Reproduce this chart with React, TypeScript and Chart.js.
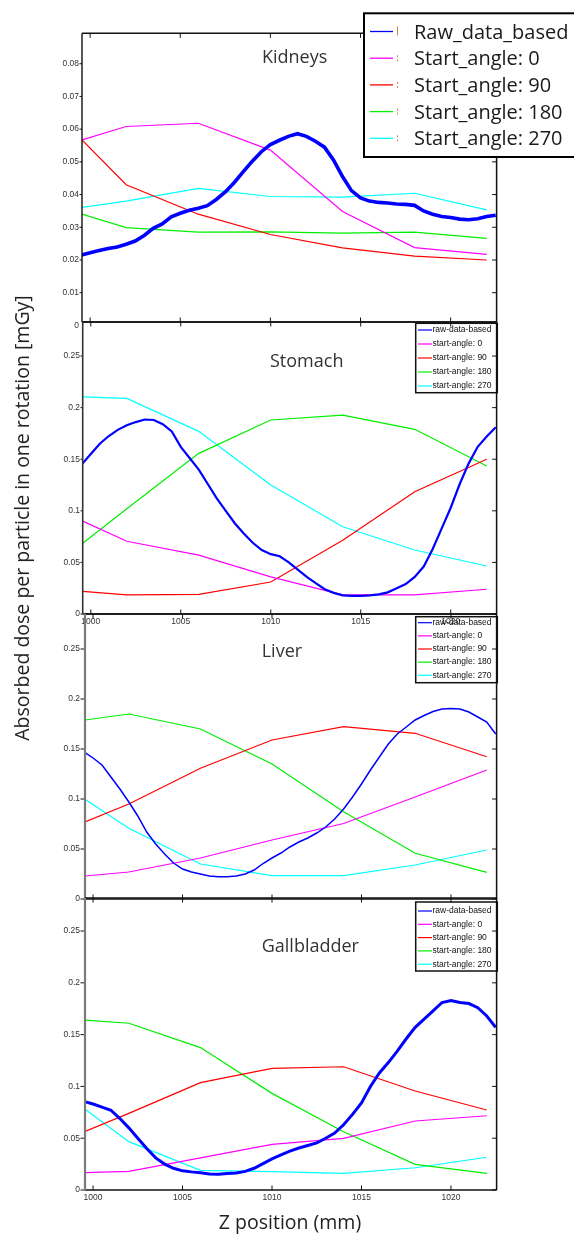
import React, { useEffect, useRef } from "react";
import { Chart, registerables } from "chart.js";

Chart.register(...registerables);

// ---------- data ----------
const seriesNames = ["raw-data-based", "start-angle: 0", "start-angle: 90", "start-angle: 180", "start-angle: 270"];
const bigLegendNames = ["Raw_data_based", "Start_angle: 0", "Start_angle: 90", "Start_angle: 180", "Start_angle: 270"];
const seriesColors = ["#0000ff", "#ff00ff", "#ff0000", "#00ee00", "#00ffff"];

const xTicks = [1000, 1005, 1010, 1015, 1020];
const kidneysYTicks = [0, 0.01, 0.02, 0.03, 0.04, 0.05, 0.06, 0.07, 0.08];
const kidneysYLabels = ["0", "0.01", "0.02", "0.03", "0.04", "0.05", "0.06", "0.07", "0.08"];
const organYTicks = [0, 0.05, 0.1, 0.15, 0.2, 0.25];
const organYLabels = ["0", "0.05", "0.1", "0.15", "0.2", "0.25"];

// z positions (mm)
const angleZ = [999.55, 1002, 1006, 1010, 1014, 1018, 1022];
const rawZ = [
  999.5, 1000, 1000.5, 1001, 1001.5, 1002, 1002.5, 1003, 1003.5, 1004, 1004.5, 1005, 1005.5, 1006, 1006.5, 1007,
  1007.5, 1008, 1008.5, 1009, 1009.5, 1010, 1010.5, 1011, 1011.5, 1012, 1012.5, 1013, 1013.5, 1014, 1014.5, 1015,
  1015.5, 1016, 1016.5, 1017, 1017.5, 1018, 1018.5, 1019, 1019.5, 1020, 1020.5, 1021, 1021.5, 1022, 1022.5,
];

// Kidneys
const kidneysRaw = [
  0.0215, 0.0222, 0.0229, 0.0235, 0.024, 0.0248, 0.0258, 0.0275, 0.0297, 0.031, 0.0332, 0.0343, 0.0352, 0.0358, 0.0366, 0.0385,
  0.0408, 0.0437, 0.047, 0.0502, 0.0531, 0.0553, 0.0566, 0.0578, 0.0586, 0.0578, 0.0563, 0.0545, 0.0506, 0.0455, 0.0412, 0.039,
  0.038, 0.0376, 0.0374, 0.0371, 0.037, 0.0367, 0.035, 0.034, 0.0333, 0.033, 0.0325, 0.0323, 0.0326, 0.0333, 0.0337,
];
const kidneysA0 = [0.0567, 0.0608, 0.0618, 0.0536, 0.0348, 0.0238, 0.0217];
const kidneysA90 = [0.0567, 0.043, 0.034, 0.0278, 0.0237, 0.0212, 0.02];
const kidneysA180 = [0.034, 0.0299, 0.0285, 0.0286, 0.0282, 0.0285, 0.0266];
const kidneysA270 = [0.0361, 0.038, 0.0419, 0.0394, 0.0392, 0.0404, 0.0353];

// Stomach
const stomachRaw = [
  0.145, 0.155, 0.165, 0.1725, 0.1785, 0.183, 0.186, 0.1885, 0.188, 0.184, 0.177, 0.162, 0.151, 0.14, 0.126, 0.112,
  0.1, 0.088, 0.078, 0.069, 0.062, 0.058, 0.056, 0.05, 0.043, 0.036, 0.03, 0.024, 0.0205, 0.018, 0.0175, 0.0175,
  0.018, 0.019, 0.021, 0.025, 0.029, 0.036, 0.046, 0.063, 0.083, 0.103, 0.126, 0.146, 0.162, 0.172, 0.181,
];
const stomachA0 = [0.09, 0.0705, 0.057, 0.036, 0.0185, 0.0185, 0.024];
const stomachA90 = [0.022, 0.0185, 0.019, 0.031, 0.0715, 0.1185, 0.15];
const stomachA180 = [0.0685, 0.102, 0.1557, 0.188, 0.1928, 0.179, 0.1434];
const stomachA270 = [0.2105, 0.209, 0.177, 0.125, 0.0846, 0.062, 0.0465];

// Liver
const liverRaw = [
  0.147, 0.141, 0.134, 0.122, 0.11, 0.097, 0.083, 0.067, 0.055, 0.045, 0.036, 0.03, 0.027, 0.025, 0.023, 0.0222,
  0.0222, 0.023, 0.025, 0.029, 0.0355, 0.041, 0.046, 0.052, 0.057, 0.061, 0.066, 0.072, 0.08, 0.09, 0.102, 0.115,
  0.129, 0.142, 0.155, 0.165, 0.172, 0.179, 0.1835, 0.1875, 0.19, 0.1905, 0.19, 0.187, 0.182, 0.177, 0.165,
];
const liverA0 = [0.023, 0.027, 0.041, 0.059, 0.0755, 0.102, 0.129];
const liverA90 = [0.077, 0.095, 0.1307, 0.159, 0.1723, 0.1657, 0.1423];
const liverA180 = [0.179, 0.185, 0.17, 0.135, 0.0873, 0.0457, 0.0267];
const liverA270 = [0.0997, 0.0707, 0.035, 0.0233, 0.0233, 0.034, 0.049];

// Gallbladder
const gallRaw = [
  0.0855, 0.083, 0.08, 0.077, 0.069, 0.06, 0.05, 0.04, 0.031, 0.025, 0.021, 0.0185, 0.0175, 0.0167, 0.0155, 0.0152,
  0.016, 0.0165, 0.018, 0.021, 0.0255, 0.03, 0.034, 0.0376, 0.0405, 0.043, 0.0455, 0.05, 0.055, 0.063, 0.073, 0.084,
  0.1, 0.113, 0.123, 0.134, 0.146, 0.157, 0.165, 0.173, 0.181, 0.183, 0.181, 0.18, 0.176, 0.168, 0.157,
];
const gallA0 = [0.0167, 0.018, 0.031, 0.0441, 0.0499, 0.0666, 0.0717];
const gallA90 = [0.0565, 0.074, 0.1036, 0.1174, 0.119, 0.0956, 0.0772];
const gallA180 = [0.164, 0.161, 0.1375, 0.0933, 0.0563, 0.0248, 0.0161];
const gallA270 = [0.0779, 0.0467, 0.019, 0.0177, 0.0161, 0.0215, 0.0316];

// ---------- layout ----------
const W = 574;
const H = 1239;
const X_MIN = 999.55;
const X_MAX = 1022.55;
const AREA_RIGHT = 496.6;
const TICK_FONT = { family: '"Liberation Sans", Arial, sans-serif', size: 8.5 };

type Spec = {
  title: string;
  raw: number[];
  angles: number[][];
  yTicks: number[];
  yLabels: string[];
  yMin: number;
  yMax: number;
  canvasTop: number;
  canvasH: number;
  areaTop: number;
  areaBottom: number;
  areaLeft: number;
  labelPad: number;
  leftColor: string;
  leftWidth: number;
  rawWidth: number;
  showXLabels: boolean;
  titleX: number;
  titleBase: number;
  legend: "big" | "small";
  legTop: number;
  legBottom: number;
  legRow0: number;
  legStep: number;
};

const PANELS: Spec[] = [
  {
    title: "Kidneys", raw: kidneysRaw, angles: [kidneysA0, kidneysA90, kidneysA180, kidneysA270],
    yTicks: kidneysYTicks, yLabels: kidneysYLabels, yMin: 0.00104, yMax: 0.0893,
    canvasTop: 0, canvasH: 345, areaTop: 33.3, areaBottom: 322, areaLeft: 82, labelPad: 3,
    leftColor: "#111", leftWidth: 1.4, rawWidth: 3.6, showXLabels: false, titleX: 262, titleBase: 63.3,
    legend: "big", legTop: 13.3, legBottom: 157, legRow0: 38.5, legStep: 26.7,
  },
  {
    title: "Stomach", raw: stomachRaw, angles: [stomachA0, stomachA90, stomachA180, stomachA270],
    yTicks: organYTicks, yLabels: organYLabels, yMin: 0, yMax: 0.283,
    canvasTop: 300, canvasH: 340, areaTop: 322, areaBottom: 614, areaLeft: 82.7, labelPad: 2.7,
    leftColor: "#333", leftWidth: 1.6, rawWidth: 2.2, showXLabels: true, titleX: 270, titleBase: 366.7,
    legend: "small", legTop: 323.3, legBottom: 392.7, legRow0: 330, legStep: 14,
  },
  {
    title: "Liver", raw: liverRaw, angles: [liverA0, liverA90, liverA180, liverA270],
    yTicks: organYTicks, yLabels: organYLabels, yMin: 0, yMax: 0.285,
    canvasTop: 600, canvasH: 310, areaTop: 614, areaBottom: 899, areaLeft: 85, labelPad: 5,
    leftColor: "#7a7a7a", leftWidth: 2.2, rawWidth: 1.5, showXLabels: false, titleX: 261.7, titleBase: 657.3,
    legend: "small", legTop: 616.7, legBottom: 682.7, legRow0: 622.7, legStep: 13.15,
  },
  {
    title: "Gallbladder", raw: gallRaw, angles: [gallA0, gallA90, gallA180, gallA270],
    yTicks: organYTicks, yLabels: organYLabels, yMin: 0, yMax: 0.2819,
    canvasTop: 880, canvasH: 330, areaTop: 898, areaBottom: 1190, areaLeft: 85, labelPad: 5,
    leftColor: "#7a7a7a", leftWidth: 2.2, rawWidth: 3, showXLabels: true, titleX: 261.7, titleBase: 952.3,
    legend: "small", legTop: 902, legBottom: 971, legRow0: 911, legStep: 13.3,
  },
];

function framePlugin(spec: Spec) {
  return {
    id: "frame",
    afterDraw(chart: any) {
      const { ctx, chartArea: a, scales } = chart;
      const xs = scales.x;
      const ys = scales.y;
      const off = spec.canvasTop;
      const seg = (x1: number, y1: number, x2: number, y2: number) => {
        ctx.beginPath();
        ctx.moveTo(x1, y1);
        ctx.lineTo(x2, y2);
        ctx.stroke();
      };
      ctx.save();
      // tick marks
      ctx.strokeStyle = "#111";
      ctx.lineWidth = 1;
      for (const v of xTicks) {
        const px = xs.getPixelForValue(v);
        seg(px, a.top, px, a.top + 4.5);
        seg(px, a.bottom, px, a.bottom - 4.5);
      }
      for (const v of spec.yTicks) {
        if (v < ys.min || v > ys.max) continue;
        const py = ys.getPixelForValue(v);
        seg(a.right, py, a.right - 4.5, py);
        seg(a.left, py, a.left - spec.labelPad + 0.5, py);
      }
      // box
      ctx.strokeStyle = "#111";
      ctx.lineWidth = 1.5;
      seg(a.left, a.top, a.right, a.top);
      seg(a.right, a.top, a.right, a.bottom);
      seg(a.left, a.bottom, a.right, a.bottom);
      ctx.strokeStyle = spec.leftColor;
      ctx.lineWidth = spec.leftWidth;
      seg(a.left, a.top, a.left, a.bottom);

      // title
      ctx.fillStyle = "#333";
      ctx.font = '18px "Open Sans", sans-serif';
      ctx.textAlign = "left";
      ctx.textBaseline = "alphabetic";
      ctx.fillText(spec.title, spec.titleX, spec.titleBase - off);

      // legend
      if (spec.legend === "big") {
        const bx = 364;
        const by = spec.legTop - off;
        const bh = spec.legBottom - spec.legTop;
        ctx.fillStyle = "#fff";
        ctx.fillRect(bx, by, 230, bh);
        ctx.strokeStyle = "#000";
        ctx.lineWidth = 2;
        ctx.strokeRect(bx, by, 230, bh);
        ctx.font = '20px "Open Sans", sans-serif';
        seriesColors.forEach((c, i) => {
          const base = spec.legRow0 + i * spec.legStep - off;
          const cy = base - 7;
          ctx.strokeStyle = c;
          ctx.lineWidth = 1.3;
          seg(370, cy, 393, cy);
          ctx.strokeStyle = "#c8884a";
          ctx.lineWidth = 1;
          if (i === 0) seg(397.5, cy - 5, 397.5, cy + 4);
          else {
            seg(397.5, cy - 3, 397.5, cy - 1);
            seg(397.5, cy + 1, 397.5, cy + 3);
          }
          ctx.fillStyle = "#1a1a1a";
          ctx.fillText(bigLegendNames[i], 414, base);
        });
      } else {
        const bx = 415.7;
        const bw = 497.3 - 415.7;
        const by = spec.legTop - off;
        const bh = spec.legBottom - spec.legTop;
        ctx.strokeStyle = "#111";
        ctx.lineWidth = 1.5;
        ctx.strokeRect(bx, by, bw, bh);
        ctx.font = '8.5px "Liberation Sans", Arial, sans-serif';
        ctx.textBaseline = "middle";
        seriesColors.forEach((c, i) => {
          const cy = spec.legRow0 + i * spec.legStep - off;
          ctx.strokeStyle = c;
          ctx.lineWidth = 1.2;
          seg(418, cy, 432, cy);
          ctx.fillStyle = "#111";
          ctx.fillText(seriesNames[i], 432.5, cy);
        });
      }
      ctx.restore();
    },
  };
}

function Panel({ spec }: { spec: Spec }) {
  const ref = useRef<HTMLCanvasElement>(null);
  useEffect(() => {
    const canvas = ref.current;
    if (!canvas) return;
    const datasets: any[] = [
      {
        label: seriesNames[0],
        data: rawZ.map((x, i) => ({ x, y: spec.raw[i] })),
        borderColor: seriesColors[0],
        borderWidth: spec.rawWidth,
        pointRadius: 0,
        tension: 0,
      },
      ...spec.angles.map((arr, k) => ({
        label: seriesNames[k + 1],
        data: angleZ.map((x, i) => ({ x, y: arr[i] })),
        borderColor: seriesColors[k + 1],
        borderWidth: 1.2,
        pointRadius: 0,
        tension: 0,
      })),
    ];
    const chart = new Chart(canvas, {
      type: "line",
      data: { datasets },
      options: {
        animation: false,
        responsive: false,
        devicePixelRatio: 1,
        layout: { padding: { top: spec.areaTop - spec.canvasTop, right: W - AREA_RIGHT, left: 0, bottom: 0 } },
        plugins: { legend: { display: false }, tooltip: { enabled: false }, title: { display: false } },
        scales: {
          x: {
            type: "linear",
            min: X_MIN,
            max: X_MAX,
            grid: { display: false, drawTicks: false },
            border: { display: false },
            afterBuildTicks: (s: any) => {
              s.ticks = xTicks.map((v) => ({ value: v }));
            },
            afterFit: (s: any) => {
              s.height = spec.canvasTop + spec.canvasH - spec.areaBottom;
            },
            ticks: {
              display: spec.showXLabels,
              padding: 2.5,
              font: TICK_FONT,
              color: "#333",
              autoSkip: false,
              maxRotation: 0,
              callback: (v: any) => String(v),
            },
          },
          y: {
            type: "linear",
            min: spec.yMin,
            max: spec.yMax,
            grid: { display: false, drawTicks: false },
            border: { display: false },
            afterBuildTicks: (s: any) => {
              s.ticks = spec.yTicks.map((v) => ({ value: v }));
            },
            afterFit: (s: any) => {
              s.width = spec.areaLeft;
            },
            ticks: {
              padding: spec.labelPad,
              font: TICK_FONT,
              color: "#333",
              autoSkip: false,
              callback: (v: any) => {
                const idx = spec.yTicks.indexOf(v);
                return idx >= 0 ? spec.yLabels[idx] : "";
              },
            },
          },
        },
      } as any,
      plugins: [framePlugin(spec)],
    });
    return () => chart.destroy();
  }, [spec]);
  return (
    <canvas
      ref={ref}
      width={W}
      height={spec.canvasH}
      style={{ position: "absolute", left: 0, top: spec.canvasTop, width: W, height: spec.canvasH }}
    />
  );
}

export default function App() {
  return (
    <div
      style={{
        position: "absolute",
        left: 0,
        top: 0,
        width: W,
        height: H,
        background: "#fff",
        overflow: "hidden",
      }}
    >
      {PANELS.map((p) => (
        <Panel key={p.title} spec={p} />
      ))}
      <div
        style={{
          position: "absolute",
          left: 22 - 260,
          top: 518 - 13,
          width: 520,
          height: 26,
          lineHeight: "26px",
          textAlign: "center",
          transform: "rotate(-90deg)",
          fontFamily: '"Open Sans", sans-serif',
          fontSize: 19.5,
          color: "#222",
          whiteSpace: "nowrap",
        }}
      >
        Absorbed dose per particle in one rotation [mGy]
      </div>
      <div
        style={{
          position: "absolute",
          left: 290 - 150,
          top: 1208.5,
          width: 300,
          height: 26,
          lineHeight: "26px",
          textAlign: "center",
          fontFamily: '"Open Sans", sans-serif',
          fontSize: 19.5,
          color: "#222",
          whiteSpace: "nowrap",
        }}
      >
        Z position (mm)
      </div>
    </div>
  );
}
